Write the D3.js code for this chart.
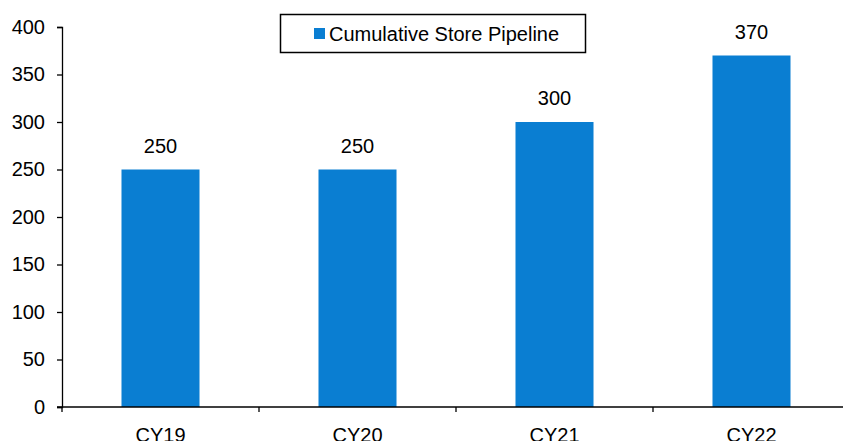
<!DOCTYPE html>
<html>
<head>
<meta charset="utf-8">
<script src="https://cdn.jsdelivr.net/npm/d3@7"></script>
<style>
  html, body { margin: 0; padding: 0; background: #fff; }
  svg { display: block; font-family: "Liberation Sans", Arial, sans-serif; }
</style>
</head>
<body>
<svg id="chart" width="843" height="441"></svg>
<script>
// Store pipeline by calendar year
const categories = ["CY19", "CY20", "CY21", "CY22"];
const pipelineValues = [250, 250, 300, 370];
const yTicks = [0, 50, 100, 150, 200, 250, 300, 350, 400];
const seriesName = "Cumulative Store Pipeline";

const barColor = "#0A7ED2";
const svg = d3.select("#chart");

const x = d3.scaleBand()
  .domain(categories)
  .range([62, 850])
  .paddingInner(0.604)
  .paddingOuter(0.302);

const y = d3.scaleLinear()
  .domain([0, 400])
  .range([407, 27]);

// Bars
svg.append("g")
  .selectAll("rect")
  .data(categories)
  .join("rect")
  .attr("x", d => x(d))
  .attr("y", (d, i) => y(pipelineValues[i]))
  .attr("width", x.bandwidth())
  .attr("height", (d, i) => y(0) - y(pipelineValues[i]))
  .attr("fill", barColor);

// Value labels
svg.append("g")
  .selectAll("text")
  .data(categories)
  .join("text")
  .attr("x", d => x(d) + x.bandwidth() / 2)
  .attr("y", (d, i) => y(pipelineValues[i]) - 17)
  .attr("text-anchor", "middle")
  .attr("font-size", 20)
  .attr("fill", "#000")
  .text((d, i) => pipelineValues[i]);

// Y axis
const yAxis = svg.append("g")
  .attr("transform", "translate(62,0)")
  .call(d3.axisLeft(y).tickValues(yTicks).tickSize(5).tickPadding(12).tickFormat(d3.format("d")));
yAxis.select(".domain").attr("stroke", "#000").attr("stroke-width", 1.3);
yAxis.selectAll(".tick line").attr("stroke", "#000").attr("stroke-width", 1.3);
yAxis.selectAll(".tick text")
  .attr("font-size", 20)
  .attr("font-family", "Liberation Sans, Arial, sans-serif")
  .attr("fill", "#000");

// X axis with ticks at band boundaries
const boundaries = categories.map(c => x(c) - x.step() * x.paddingInner() / 2 - 0)
  .map((v, i) => 62 + i * x.step());
boundaries.push(62 + categories.length * x.step());

const xAxis = svg.append("g");
xAxis.append("line")
  .attr("x1", 57).attr("x2", 850)
  .attr("y1", y(0)).attr("y2", y(0))
  .attr("stroke", "#000").attr("stroke-width", 1.3);
xAxis.selectAll("line.tick")
  .data(boundaries)
  .join("line")
  .attr("class", "tick")
  .attr("x1", d => d).attr("x2", d => d)
  .attr("y1", y(0)).attr("y2", y(0) + 5)
  .attr("stroke", "#000").attr("stroke-width", 1.3);
xAxis.selectAll("text")
  .data(categories)
  .join("text")
  .attr("x", d => x(d) + x.bandwidth() / 2)
  .attr("y", 441.5)
  .attr("text-anchor", "middle")
  .attr("font-size", 20)
  .attr("fill", "#000")
  .text(d => d);

// Legend
const legend = svg.append("g");
legend.append("rect")
  .attr("x", 280.5).attr("y", 14.5)
  .attr("width", 305).attr("height", 38)
  .attr("fill", "#fff")
  .attr("stroke", "#000").attr("stroke-width", 1.5);
legend.append("rect")
  .attr("x", 314).attr("y", 28)
  .attr("width", 11).attr("height", 11)
  .attr("fill", barColor);
legend.append("text")
  .attr("x", 329).attr("y", 40.5)
  .attr("font-size", 20)
  .attr("fill", "#000")
  .text(seriesName);
</script>
</body>
</html>
